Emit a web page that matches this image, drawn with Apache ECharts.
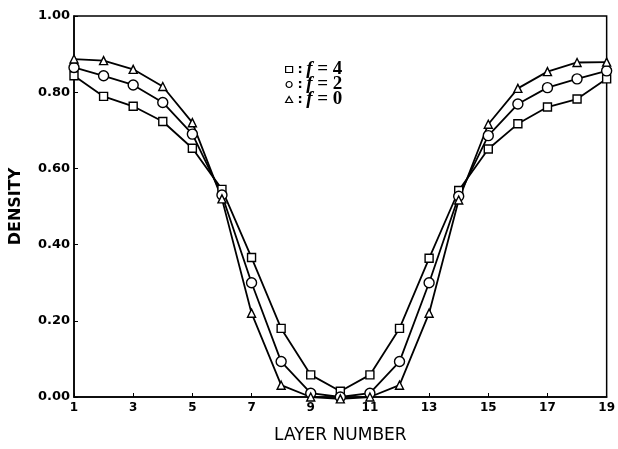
<!DOCTYPE html>
<html>
<head>
<meta charset="utf-8">
<script src="https://cdn.jsdelivr.net/npm/echarts@6/dist/echarts.min.js"></script>
<style>html,body{margin:0;padding:0;background:#fff;}#c{width:618px;height:449px;}</style>
</head>
<body>
<div id="c"></div>
<script>
var layers = ['1','2','3','4','5','6','7','8','9','10','11','12','13','14','15','16','17','18','19'];
var f4 = [0.843,0.789,0.763,0.723,0.653,0.545,0.366,0.180,0.058,0.015,0.058,0.180,0.364,0.542,0.651,0.717,0.761,0.782,0.835];
var f2 = [0.865,0.843,0.819,0.773,0.690,0.530,0.300,0.093,0.010,0.000,0.010,0.093,0.300,0.527,0.686,0.769,0.812,0.835,0.856];
var f0 = [0.887,0.883,0.860,0.815,0.720,0.520,0.220,0.031,0.000,-0.005,0.000,0.031,0.220,0.517,0.716,0.810,0.854,0.878,0.879];
var yTicks = [0, 0.2, 0.4, 0.6, 0.8, 1.0];

var chart = echarts.init(document.getElementById('c'));
function mk(name, data, symbol, size) {
  return {
    name: name, type: 'line', data: data, symbol: symbol, symbolSize: size,
    showAllSymbol: true, clip: false,
    lineStyle: {color: '#000', width: 1.8},
    itemStyle: {color: '#fff', borderColor: '#000', borderWidth: 1.4},
    emphasis: {disabled: true}, animation: false
  };
}
var rich = {
  c: {fontFamily: 'DejaVu Sans', fontWeight: 'bold', fontSize: 13, color: '#000', lineHeight: 15},
  f: {fontFamily: 'Liberation Serif', fontStyle: 'italic', fontWeight: 'bold', fontSize: 19, color: '#000', lineHeight: 15},
  e: {fontFamily: 'Liberation Serif', fontWeight: 'bold', fontSize: 19, color: '#000', lineHeight: 15}
};
chart.setOption({
  animation: false,
  grid: {left: 74, right: 6, top: 16, bottom: 51, show: true, borderColor: '#000', borderWidth: 1.5, backgroundColor: 'transparent'},
  legend: {
    orient: 'vertical', left: 285, top: 60, itemGap: -4, itemWidth: 7, itemHeight: 6, padding: 0,
    data: [{name: 'f=4', icon: 'rect'}, {name: 'f=2', icon: 'circle'}, {name: 'f=0', icon: 'triangle'}],
    itemStyle: {color: '#fff', borderColor: '#000', borderWidth: 1.2},
    formatter: function (n) { return '{c|:} {f|f}{e| = ' + n.slice(2) + '}'; },
    textStyle: {rich: rich, lineHeight: 15}
  },
  xAxis: {
    type: 'category', data: layers, boundaryGap: false,
    name: 'LAYER NUMBER', nameLocation: 'middle', nameGap: 30,
    nameTextStyle: {fontFamily: 'DejaVu Sans', fontSize: 17, color: '#000'},
    axisLine: {lineStyle: {color: '#000', width: 1.5}},
    axisTick: {inside: true, interval: 1, length: 4, lineStyle: {color: '#000'}},
    axisLabel: {interval: 1, color: '#000', fontFamily: 'DejaVu Sans', fontSize: 12, fontWeight: 'bold', margin: 5},
    splitLine: {show: false}
  },
  yAxis: {
    type: 'value', min: 0, max: 1, interval: 0.2,
    name: 'DENSITY', nameLocation: 'middle', nameGap: 50, nameRotate: 90,
    nameTextStyle: {fontFamily: 'DejaVu Sans', fontSize: 16, fontWeight: 'bold', color: '#000'},
    axisLine: {show: true, lineStyle: {color: '#000', width: 1.5}},
    axisTick: {show: true, inside: true, length: 4, lineStyle: {color: '#000'}},
    axisLabel: {color: '#000', fontFamily: 'DejaVu Sans', fontSize: 13, fontWeight: 'bold', margin: 4,
      formatter: function (v) { return v.toFixed(2); }},
    splitLine: {show: false}
  },
  series: [
    mk('f=4', f4, 'rect', 8),
    mk('f=2', f2, 'circle', 10),
    mk('f=0', f0, 'triangle', 8)
  ]
});
</script>
</body>
</html>
